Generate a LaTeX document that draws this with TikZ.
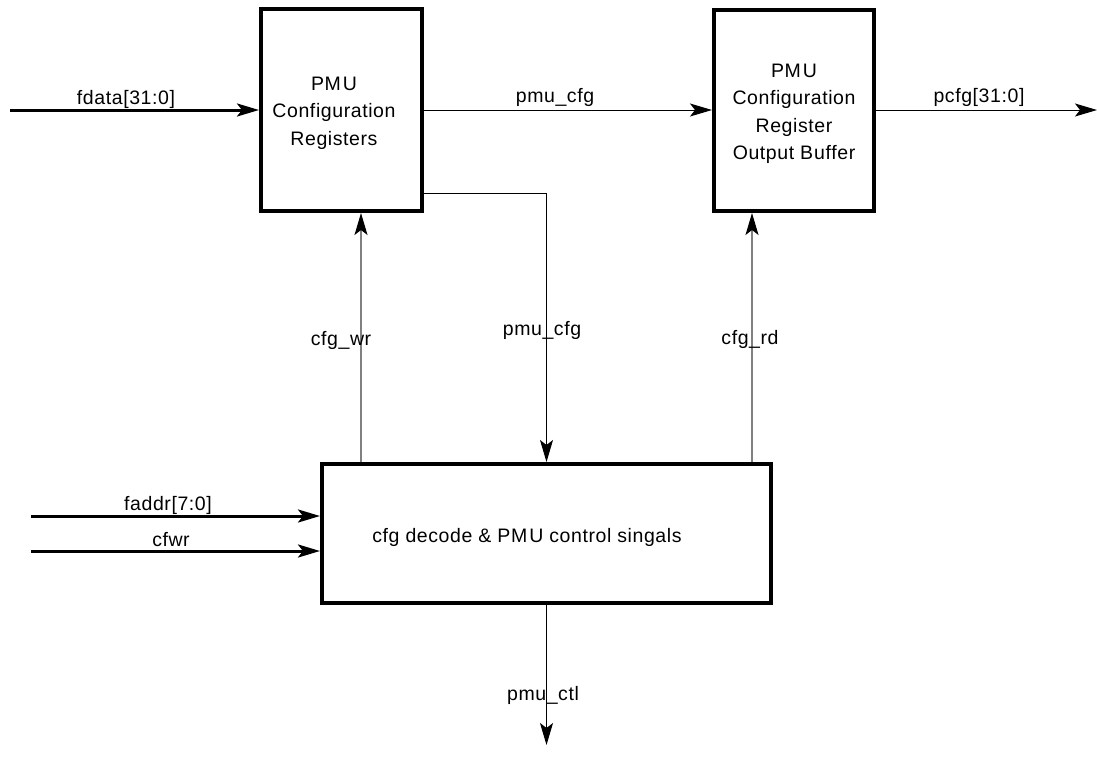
\documentclass[tikz,border=0pt]{standalone}
\usepackage{fontspec}
\setmainfont{Liberation Sans}[LetterSpace=3]
\usetikzlibrary{arrows.meta}
\tikzset{
  blk/.style={draw=black, line width=4pt, minimum width=#1, inner sep=0pt},
  lbl/.style={font=\fontsize{19.5pt}{27.5pt}\selectfont, inner sep=0pt, align=center},
  tip/.style={-{Stealth[length=22pt,width=13pt,inset=5pt,color=black]}},
  bus/.style={tip, line width=3pt},
  sig/.style={tip, line width=1pt, black},
  ctl/.style={tip, line width=1.2pt, draw=black!50},
}
\begin{document}
\begin{tikzpicture}[x=1pt,y=-1pt]
\useasboundingbox (0,0) rectangle (1097,769);
% boxes
\node[blk=161pt, minimum height=202pt] (reg) at (341.5,110) {};
\node[blk=160pt, minimum height=201pt] (buf) at (794,110.5) {};
\node[blk=449pt, minimum height=139pt] (dec) at (546.5,533.5) {};
\node[lbl] (regt) at (334,113) {PM\kern2pt U\\Configuration\\Registers};
\node[lbl] (buft) at (794,114) {PM\kern2pt U\\Configuration\\Register\\Output B\kern1pt uffer};
\node[lbl] (dect) at (527,537) {cfg decode \& PM\kern2pt U control singals};
% free ends
\coordinate (fin) at (10,110);
\coordinate (pout) at (1097,110);
\coordinate (ain) at (31,516);
\coordinate (win) at (31,551);
\coordinate (cout) at (546.5,745);
\coordinate (wrx) at (361,0);
\coordinate (rdx) at (752,0);
% connectors
\draw[bus] (fin) -- (fin -| reg.west);
\draw[sig] (reg.east) -- (reg.east -| buf.west);
\draw[sig] (buf.east |- pout) -- (pout);
\draw[sig] ([yshift=-83pt]reg.east) -| (dec.north);
\draw[ctl] (dec.north -| wrx) -- (reg.south -| wrx);
\draw[ctl] (dec.north -| rdx) -- (buf.south -| rdx);
\draw[bus] (ain) -- (ain -| dec.west);
\draw[bus] (win) -- (win -| dec.west);
\draw[sig] (dec.south) -- (cout);
% labels
\node[lbl] (l1) at (126,99) {fdata[31:0]};
\node[lbl] (l2) at (555,97) {pmu\_cfg};
\node[lbl] (l3) at (979,97) {pcfg[31:0]};
\node[lbl] (l4) at (542,330) {pmu\_cfg};
\node[lbl] (l5) at (341,340) {cfg\_wr};
\node[lbl] (l6) at (750,339) {cfg\_rd};
\node[lbl] (l7) at (168,505) {faddr[7:0]};
\node[lbl] (l8) at (171,540) {cfwr};
\node[lbl] (l9) at (543,695) {pmu\_ctl};
\end{tikzpicture}
\end{document}
